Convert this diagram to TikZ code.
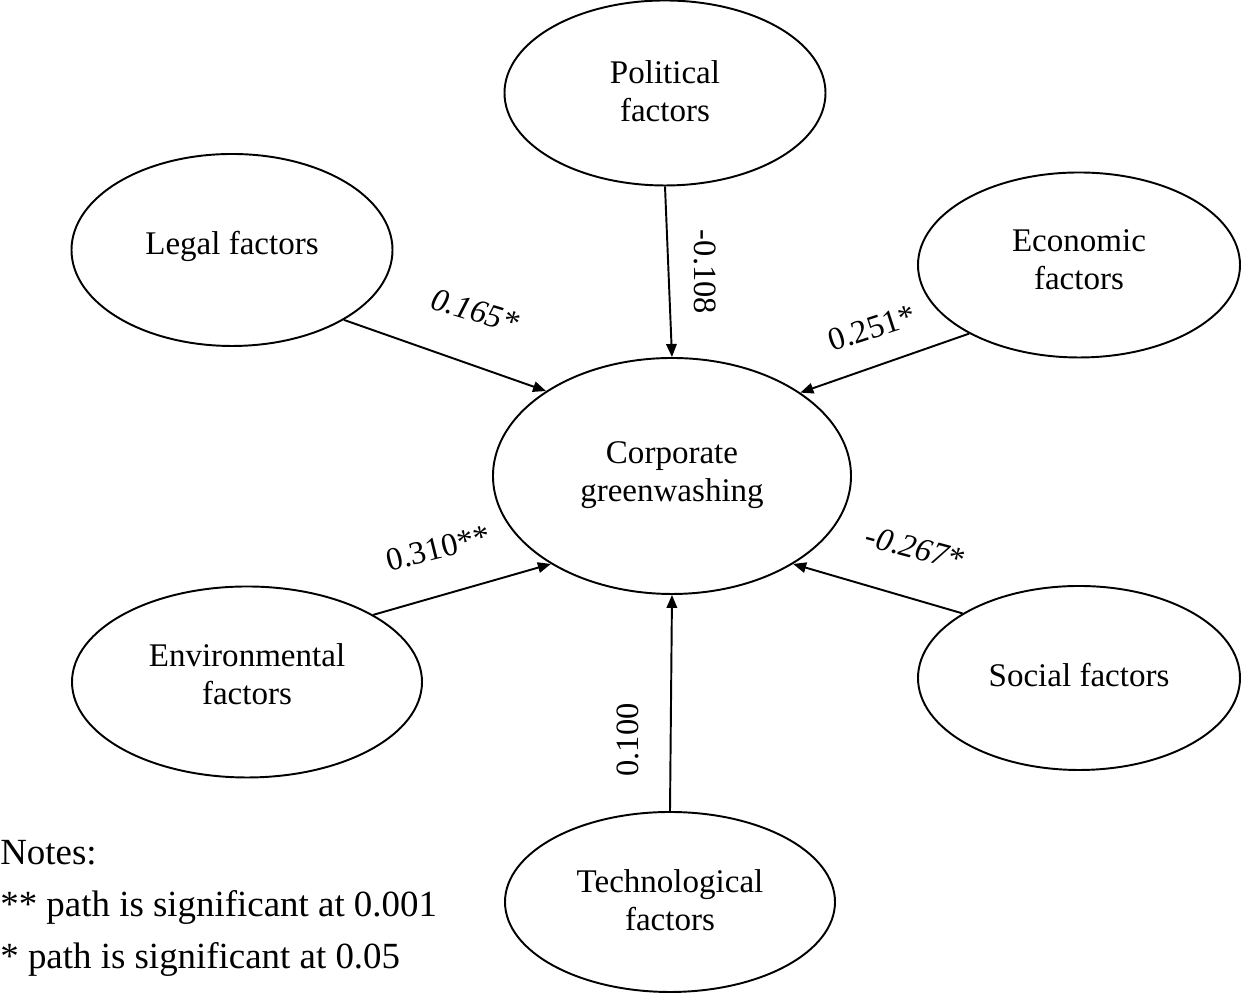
\documentclass[tikz,border=0pt]{standalone}
\usepackage{fontspec}
\setmainfont{Liberation Serif}
\usetikzlibrary{arrows.meta, shapes.geometric}

\begin{document}
\begin{tikzpicture}[
    factor/.style={draw, ellipse, line width=1.1pt, inner sep=0pt, align=center,
        text depth=0.3cm, font=\fontsize{18.8}{21.6}\selectfont},
    path arrow/.style={line width=1.1pt, -{Triangle[length=0.26cm, width=0.21cm]}},
    coef/.style={inner sep=1pt, font=\fontsize{18.5}{21}\selectfont}
]
        \useasboundingbox (0,0) rectangle (24.9,20.16);

        % ==========================================
        % COSTRUTTI (ELLISSI)
        % ==========================================

        % Costrutto centrale
        \node[factor, text depth=0.16cm, minimum width=7.16cm, minimum height=4.72cm] (corp) at (13.44, 10.64) {Corporate\\greenwashing};

        % Fattori esterni
        \node[factor, text depth=0.06cm, minimum width=6.42cm, minimum height=3.7cm] (political) at (13.30, 18.30) {Political\\factors};
        \node[factor, minimum width=6.42cm, minimum height=3.84cm] (legal) at (4.64, 15.16) {Legal factors};
        \node[factor, text depth=0.22cm, minimum width=6.44cm, minimum height=3.7cm] (economic) at (21.58, 14.86) {Economic\\factors};
        \node[factor, minimum width=7.0cm, minimum height=3.82cm] (environmental) at (4.94, 6.52) {Environmental\\factors};
        \node[factor, text depth=0.14cm, minimum width=6.44cm, minimum height=3.68cm] (social) at (21.58, 6.60) {Social factors};
        \node[factor, text depth=0.06cm, minimum width=6.6cm, minimum height=3.6cm] (technological) at (13.40, 2.12) {Technological\\factors};


        % ==========================================
        % PERCORSI (FRECCE)
        % ==========================================

        \draw[path arrow] (political.south) -- (corp.north);
        \draw[path arrow] (legal.-32) -- (corp.146);
        \draw[path arrow] (economic.212) -- (corp.33);
        \draw[path arrow] (environmental.28) -- (corp.216);
        \draw[path arrow] (social.151) -- (corp.-36);
        \draw[path arrow] (technological.north) -- (corp.south);

        % Coefficienti
        \node[coef, rotate=-17, font=\fontsize{18.5}{21}\selectfont\itshape] (c-legal) at (9.50, 13.94) {0.165*};
        \node[coef, rotate=-90] (c-political) at (14.10, 14.72) {-0.108};
        \node[coef, rotate=18] (c-economic) at (17.44, 13.60) {0.251*};
        \node[coef, rotate=14] (c-environmental) at (8.76, 9.20) {0.310**};
        \node[coef, rotate=-15, font=\fontsize{18.5}{21}\selectfont\itshape] (c-social) at (18.30, 9.20) {-0.267*};
        \node[coef, rotate=90] (c-technological) at (12.56, 5.36) {0.100};


        % ==========================================
        % NOTE
        % ==========================================

        \node[anchor=north west, inner sep=0pt, align=left,
            font=\fontsize{21}{29.6}\selectfont] (notes) at (0, 3.36)
            {Notes:\\** path is significant at 0.001\\* path is significant at 0.05};

\end{tikzpicture}
\end{document}
